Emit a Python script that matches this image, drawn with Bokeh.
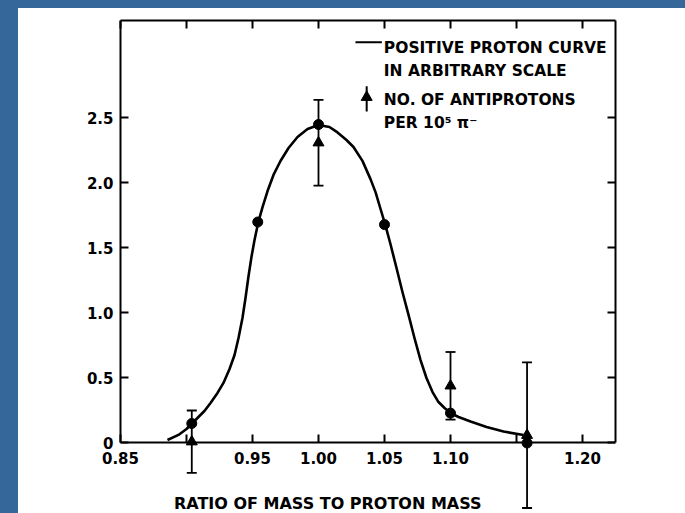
from bokeh.plotting import figure
from bokeh.models import (ColumnDataSource, Whisker, TeeHead, FixedTicker, LinearAxis,
                          Label, Range1d, GlobalInlineStyleSheet)
from bokeh.embed import file_html
from bokeh.resources import INLINE

# ---------------- data ----------------
x_ticks = [0.85, 0.90, 0.95, 1.00, 1.05, 1.10, 1.15, 1.20]
x_tick_labels = ["0.85", "", "0.95", "1.00", "1.05", "1.10", "", "1.20"]
y_ticks = [0, 0.5, 1.0, 1.5, 2.0, 2.5]
y_tick_labels = ["0", "0.5", "1.0", "1.5", "2.0", "2.5"]

# positive proton points (circles)
proton_x = [0.904, 0.954, 1.000, 1.050, 1.100, 1.158]
proton_y = [0.15, 1.70, 2.45, 1.68, 0.23, 0.00]

# antiprotons per 10^5 pi- (triangles with error bars)
anti_x = [0.904, 1.000, 1.100, 1.158]
anti_y = [0.01, 2.31, 0.44, 0.06]
anti_err = [0.24, 0.33, 0.26, 0.56]

# positive proton curve
curve_x = [0.8856, 0.8939, 0.9000, 0.9038, 0.9083, 0.9136, 0.9182, 0.9235, 0.9280, 0.9326,
           0.9364, 0.9394, 0.9424, 0.9447, 0.9470, 0.9492, 0.9515, 0.9543, 0.9576, 0.9614,
           0.9659, 0.9712, 0.9773, 0.9841, 0.9917, 1.0000, 1.0083, 1.0144, 1.0212, 1.0265,
           1.0333, 1.0394, 1.0432, 1.0470, 1.0505, 1.0545, 1.0591, 1.0636, 1.0682, 1.0727,
           1.0773, 1.0818, 1.0864, 1.0909, 1.0955, 1.1000, 1.1061, 1.1152, 1.1273, 1.1402,
           1.1553]
curve_y = [0.023, 0.062, 0.108, 0.146, 0.192, 0.246, 0.308, 0.385, 0.462, 0.569,
           0.677, 0.808, 0.962, 1.115, 1.285, 1.430, 1.560, 1.695, 1.815, 1.938,
           2.062, 2.169, 2.269, 2.354, 2.415, 2.446, 2.431, 2.389, 2.331, 2.277,
           2.170, 2.030, 1.930, 1.800, 1.682, 1.531, 1.346, 1.162, 0.985, 0.808,
           0.638, 0.500, 0.392, 0.315, 0.269, 0.231, 0.200, 0.165, 0.123, 0.088,
           0.062]

FONT = "DejaVu Sans"
BLUE = "#35679b"
X0, X1 = 0.85, 1.225      # extent of the drawn box
Y0, Y1 = 0.0, 3.25

page_css = (
    "body { background: linear-gradient(%s, %s) 0 0 / 18px 100%% no-repeat,"
    " linear-gradient(%s, %s) 0 0 / 100%% 8px no-repeat, #ffffff; }" % (BLUE, BLUE, BLUE, BLUE)
)

# The frame is larger than the drawn box so that tick labels, the title and the error
# bars hanging under the axis are not clipped; the box is drawn by axes at fixed locations.
p = figure(frame_width=615, frame_height=493,
           x_range=Range1d(0.759091, X1), y_range=Range1d(-0.54231, Y1),
           output_backend="svg", toolbar_location=None, min_border=0,
           min_border_left=0, min_border_right=70, min_border_top=20, min_border_bottom=0,
           background_fill_color=None, border_fill_color=None,
           outline_line_color=None)
p.grid.visible = False
p.stylesheets = [GlobalInlineStyleSheet(css=page_css)]


def style_axis(ax, ticks, labels, show):
    ax.ticker = FixedTicker(ticks=ticks)
    ax.major_label_overrides = {t: (l if show else "") for t, l in zip(ticks, labels)}
    ax.minor_tick_line_color = None
    ax.major_tick_in = 8
    ax.major_tick_out = 0
    ax.major_tick_line_width = 2
    ax.major_tick_line_color = "black"
    ax.axis_line_width = 2
    ax.axis_line_color = "black"
    ax.major_label_text_font = FONT
    ax.major_label_text_font_style = "bold"
    ax.major_label_text_font_size = "15px"
    ax.major_label_text_color = "black"
    if not show:
        ax.major_label_standoff = 0


xax = p.xaxis[0]
style_axis(xax, x_ticks, x_tick_labels, True)
xax.fixed_location = Y0
xax.bounds = (X0, X1)
xax.major_label_standoff = 9

yax = p.yaxis[0]
style_axis(yax, y_ticks, y_tick_labels, True)
yax.fixed_location = X0
yax.bounds = (Y0, Y1)
yax.major_label_standoff = 7

top_axis = LinearAxis(bounds=(X0, X1))
style_axis(top_axis, x_ticks, x_tick_labels, False)
p.add_layout(top_axis, "above")
right_axis = LinearAxis(bounds=(Y0, Y1))
style_axis(right_axis, y_ticks, y_tick_labels, False)
p.add_layout(right_axis, "right")

# x axis title, placed as in the original drawing
p.add_layout(Label(x=1.007, y=-0.468, text="RATIO OF MASS TO PROTON MASS", text_font=FONT,
                   text_font_style="bold", text_font_size="16px", text_color="black",
                   text_align="center", text_baseline="alphabetic"))

# curve
p.line(curve_x, curve_y, line_color="black", line_width=2.6, line_join="round")

# error bars
err_src = ColumnDataSource(dict(
    x=anti_x,
    upper=[y + e for y, e in zip(anti_y, anti_err)],
    lower=[y - e for y, e in zip(anti_y, anti_err)],
))
p.add_layout(Whisker(source=err_src, base="x", upper="upper", lower="lower",
                     dimension="height", line_color="black", line_width=1.8,
                     upper_head=TeeHead(size=10, line_width=1.8, line_color="black"),
                     lower_head=TeeHead(size=10, line_width=1.8, line_color="black")))

p.scatter(proton_x, proton_y, marker="circle", size=10, fill_color="black", line_color="black")
p.scatter(anti_x, anti_y, marker="triangle", size=11, fill_color="black", line_color="black")

# legend (hand-drawn style)
p.segment(x0=[1.028], y0=[3.083], x1=[1.048], y1=[3.083], line_color="black", line_width=2)
p.segment(x0=[1.0365], y0=[2.55], x1=[1.0365], y1=[2.745], line_color="black", line_width=2)
p.scatter([1.0365], [2.66], marker="triangle", size=11, fill_color="black", line_color="black")

legend_lines = ["POSITIVE PROTON CURVE", "IN ARBITRARY SCALE", "NO. OF ANTIPROTONS",
                "PER 10\u2075 \u03c0\u207b"]
legend_y = [3.036, 2.862, 2.636, 2.458]
for txt, ly in zip(legend_lines, legend_y):
    p.add_layout(Label(x=1.0495, y=ly, text=txt, text_font=FONT, text_font_style="bold",
                       text_font_size="15.5px", text_color="black", text_baseline="alphabetic"))

open("out.html", "w").write(file_html(p, INLINE))
